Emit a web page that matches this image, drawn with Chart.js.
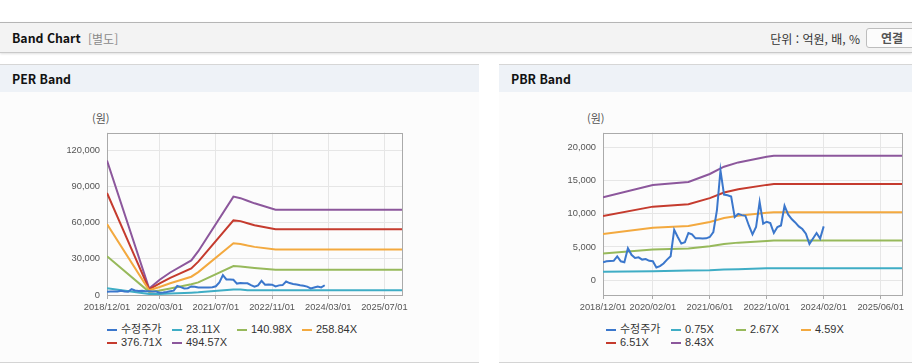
<!DOCTYPE html>
<html lang="ko">
<head>
<meta charset="UTF-8">
<title>Band Chart</title>
<script src="https://cdn.jsdelivr.net/npm/chart.js@4.4.1/dist/chart.umd.min.js"></script>
<style>
  body { margin: 0; width: 912px; height: 364px; overflow: hidden; background: #fff; position: relative;
         font-family: "Noto Sans CJK KR", "Liberation Sans", sans-serif; color: #222; }
  .top-bar { position: absolute; left: 0; top: 22px; width: 912px; height: 29px; background: #f3f3f3;
             border-top: 1px solid #b5b5b5; border-bottom: 1px solid #c9c9c9; box-shadow: 0 1px 2px rgba(0,0,0,0.12); }
  .top-bar .title { position: absolute; left: 12px; top: 1px; line-height: 29px; font-size: 12.3px; font-weight: bold; color: #111; }
  .top-bar .sub { position: absolute; left: 88px; top: 1px; line-height: 29px; font-size: 12px; color: #8a8a8a; }
  .top-bar .unit { position: absolute; right: 52px; top: 1px; line-height: 29px; font-size: 12px; color: #333; }
  .top-bar .btn { position: absolute; left: 866px; top: 5px; width: 56px; height: 18px; border: 1px solid #bdbdbd;
                  border-radius: 3px; background: #fcfcfc; font-size: 12px; font-weight: bold; color: #555;
                  line-height: 18px; padding-left: 14px; box-sizing: content-box; }
  .panel { position: absolute; top: 64px; height: 297px; background: #fcfcfc; border-top: 1px solid #d6d6d6; border-bottom: 1px solid #d4d4d4; }
  .panel .head { height: 27px; background: #eef2f7; font-size: 12.3px; font-weight: bold; color: #111; line-height: 29px; padding-left: 12px; }
  #perPanel { left: 0; width: 479px; }
  #pbrPanel { left: 499px; width: 413px; }
  .unit-label { position: absolute; top: 110px; font-size: 11px; color: #555; }
  canvas { position: absolute; }
  .legend { position: absolute; top: 323px; width: 264px; font-size: 11px; line-height: 13.3px; color: #333;
            font-family: "Liberation Sans", "Noto Sans CJK KR", sans-serif; }
  .legend .item { display: inline-block; width: 65px; white-space: nowrap; }
  .legend .item i { display: inline-block; width: 10px; height: 2px; margin-right: 4px; vertical-align: middle; }
</style>
</head>
<body>
  <div class="top-bar">
    <span class="title">Band Chart</span>
    <span class="sub">[별도]</span>
    <span class="unit">단위 : 억원, 배, %</span>
    <span class="btn">연결</span>
  </div>
  <div class="panel" id="perPanel"><div class="head">PER Band</div></div>
  <div class="panel" id="pbrPanel"><div class="head">PBR Band</div></div>

  <span class="unit-label" style="left:92px">(원)</span>
  <span class="unit-label" style="left:587px">(원)</span>

  <canvas id="perChart" style="left:40px; top:120px;" width="372" height="200"></canvas>
  <canvas id="pbrChart" style="left:540px; top:120px;" width="372" height="200"></canvas>

  <div class="legend" id="perLegend" style="left:107px"></div>
  <div class="legend" id="pbrLegend" style="left:606px"></div>

<script>
// monthly adjusted price (수정주가), from 2018/12
const priceStart = '2018/12';
const price = [
  2690, 2840, 2880, 2900, 3570, 2840, 2690, 4800, 3820, 3330,
  3430, 3090, 3180, 2900, 2840, 1900, 2100, 2500, 3090, 3600,
  7590, 6500, 5500, 5700, 7100, 6900, 6300, 6300, 6270, 6300,
  6500, 7250, 10500, 16560, 12900, 12800, 12600, 9500, 10000, 9800,
  9700, 8200, 6900, 8000, 11800, 8500, 8800, 8600, 7100, 8000,
  8240, 11200, 9900, 9200, 8700, 8100, 7700, 7000, 5440, 6270,
  7100, 6270, 8100
];

// PER band
const perBandDates = ['2018/12', '2019/12', '2020/03', '2020/06', '2020/12', '2021/02',
                      '2021/12', '2022/02', '2022/04', '2022/06', '2022/12', '2025/12'];
const perLabels = ['23.11X', '140.98X', '258.84X', '376.71X', '494.57X'];
const per1 = [5600, 900, 900, 1200, 1900, 2200, 4600, 4600, 3900, 3900, 3900, 3900];
const per2 = [32200, 2600, 3800, 5400, 9000, 10500, 24000, 23600, 23000, 22400, 20900, 20900];
const per3 = [58900, 3900, 6700, 9800, 15200, 19000, 43000, 42400, 41100, 40000, 37900, 37900];
const per4 = [84800, 4700, 9700, 14200, 22000, 27700, 62000, 61400, 59700, 58000, 54700, 54700];
const per5 = [111800, 5300, 12700, 18700, 28700, 36400, 81800, 80500, 78300, 76200, 70900, 70900];
const perTicks = ['2018/12/01', '2020/03/01', '2021/07/01', '2022/11/01', '2024/03/01', '2025/07/01'];

// PBR band
const pbrBandDates = ['2018/12', '2020/02', '2020/12', '2021/06', '2021/10', '2022/02', '2022/10', '2022/12', '2025/12'];
const pbrLabels = ['0.75X', '2.67X', '4.59X', '6.51X', '8.43X'];
const pbr1 = [1250, 1350, 1450, 1500, 1600, 1650, 1780, 1800, 1800];
const pbr2 = [4000, 4600, 4750, 5100, 5450, 5650, 5900, 5960, 5960];
const pbr3 = [6950, 7900, 8150, 8750, 9350, 9700, 10150, 10230, 10230];
const pbr4 = [9650, 11080, 11430, 12360, 13200, 13700, 14360, 14480, 14480];
const pbr5 = [12500, 14350, 14800, 16000, 17100, 17750, 18600, 18750, 18750];
const pbrTicks = ['2018/12/01', '2020/02/01', '2021/06/01', '2022/10/01', '2024/02/01', '2025/06/01'];

const xEnd = '2025/12';
const colors = ['#3b77cc', '#3fadc5', '#97b95b', '#f3a93f', '#c53b2e', '#8c579c'];

// months since 2018/12
function monthIndex(s) {
  const p = s.split('/');
  return (parseInt(p[0]) - 2018) * 12 + parseInt(p[1]) - 12;
}
function toPoints(dates, values) {
  return values.map((v, i) => ({ x: monthIndex(dates[i]), y: v }));
}
function priceSeries() {
  const s = monthIndex(priceStart);
  return price.map((v, i) => ({ x: s + i, y: v }));
}

const tickFont = { family: '"Liberation Sans", sans-serif', size: 9.3 };

const frame = {
  id: 'frame',
  beforeDatasetsDraw(chart) {
    const a = chart.chartArea, c = chart.ctx;
    c.save();
    c.strokeStyle = '#aaaaaa';
    c.lineWidth = 1;
    c.strokeRect(Math.round(a.left) + 0.5, Math.round(a.top) + 0.5, Math.round(a.right - a.left), Math.round(a.bottom - a.top));
    c.restore();
  }
};

function bandChart(id, legendId, bandDates, bands, labels, ticks, yMin, yMax, yStep, yWidth) {
  const datasets = [{ label: '수정주가', data: priceSeries() }];
  bands.forEach((b, i) => datasets.push({ label: labels[i], data: toPoints(bandDates, b) }));
  datasets.forEach((ds, i) => {
    ds.borderColor = colors[i];
    ds.backgroundColor = colors[i];
    ds.borderWidth = 2;
    ds.pointRadius = 0;
    ds.tension = 0;
  });
  const tickPos = ticks.map(t => monthIndex(t.slice(0, 7)));

  const chart = new Chart(document.getElementById(id), {
    type: 'line',
    data: { datasets: datasets },
    options: {
      responsive: false,
      animation: false,
      layout: { padding: { top: 8, right: 10, left: 0, bottom: 0 } },
      plugins: { legend: { display: false }, tooltip: { enabled: false } },
      scales: {
        x: {
          type: 'linear',
          min: 0,
          max: monthIndex(xEnd),
          afterBuildTicks: axis => { axis.ticks = tickPos.map(v => ({ value: v })); },
          afterFit: axis => { axis.height = 25; },
          grid: { color: '#e6e6e6', tickLength: 4, tickColor: '#aaaaaa' },
          border: { display: false },
          ticks: {
            autoSkip: false, maxRotation: 0, padding: 3, color: '#555', font: tickFont,
            callback: v => ticks[tickPos.indexOf(v)]
          }
        },
        y: {
          min: yMin,
          max: yMax,
          afterBuildTicks: axis => {
            const t = [];
            for (let v = Math.ceil(yMin / yStep) * yStep + 0; v <= yMax; v += yStep) t.push({ value: v === 0 ? 0 : v });
            axis.ticks = t;
          },
          afterFit: axis => { axis.width = yWidth; },
          grid: { color: '#e6e6e6', drawTicks: false },
          border: { display: false },
          ticks: {
            padding: 7, color: '#555', font: tickFont,
            callback: v => (v === 0 ? 0 : v).toLocaleString('en-US')
          }
        }
      }
    },
    plugins: [frame]
  });

  const el = document.getElementById(legendId);
  chart.data.datasets.forEach(ds => {
    const item = document.createElement('span');
    item.className = 'item';
    const mark = document.createElement('i');
    mark.style.background = ds.borderColor;
    item.appendChild(mark);
    item.appendChild(document.createTextNode(ds.label));
    el.appendChild(item);
  });
  return chart;
}

bandChart('perChart', 'perLegend', perBandDates, [per1, per2, per3, per4, per5], perLabels, perTicks, 0, 135000, 30000, 67);
bandChart('pbrChart', 'pbrLegend', pbrBandDates, [pbr1, pbr2, pbr3, pbr4, pbr5], pbrLabels, pbrTicks, -2250, 22250, 5000, 63);
</script>
</body>
</html>
